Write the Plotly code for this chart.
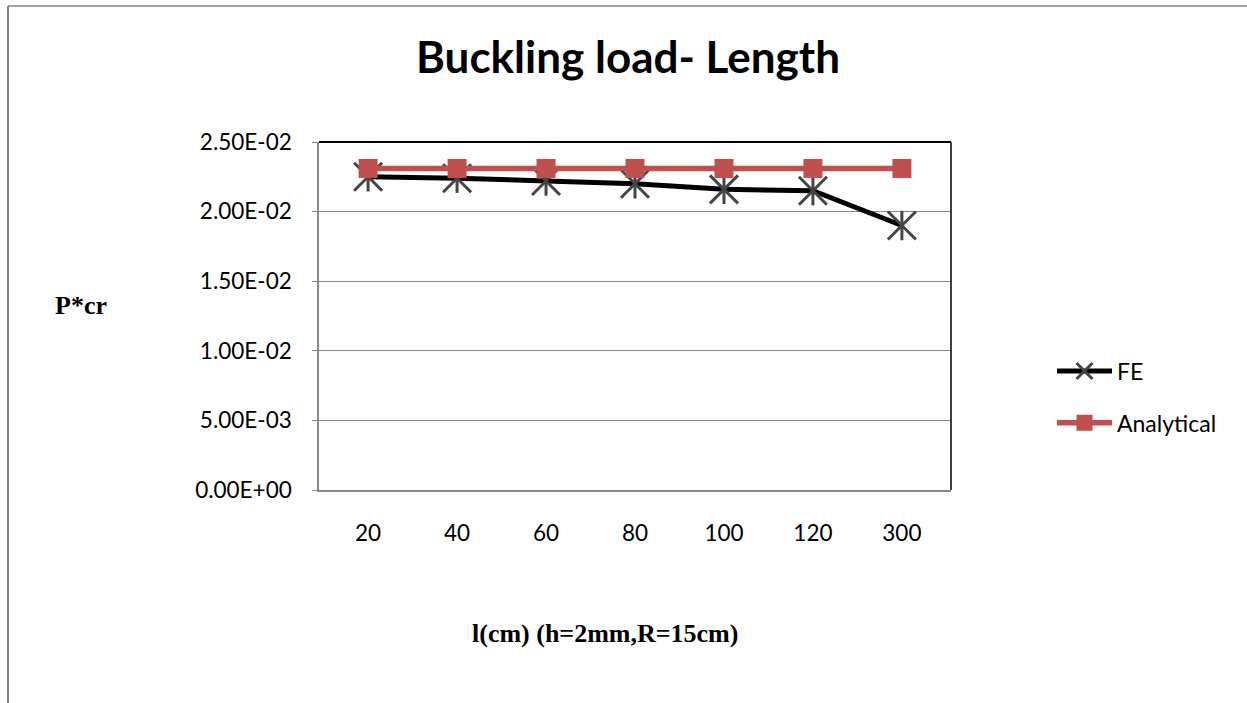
import plotly.graph_objects as go

# Chart data
lengths = ["20", "40", "60", "80", "100", "120", "300"]
fe_load = [0.0225, 0.0224, 0.0222, 0.0220, 0.0216, 0.0215, 0.0190]
analytical_load = [0.0231, 0.0231, 0.0231, 0.0231, 0.0231, 0.0231, 0.0231]
y_ticks = [0.0, 0.005, 0.010, 0.015, 0.020, 0.025]
y_tick_labels = [f"{v:.2E}" for v in y_ticks]

W, H = 1247, 703
PL, PR, PT, PB = 319, 951, 142, 490  # plot area in pixels


def px_x(x):
    return (x - PL) / (PR - PL)


def px_y(y):
    return (PB - y) / (PB - PT)


RED = "#C0504D"
STAR = "#454545"

fig = go.Figure()

# FE: black line with diagonal arms of the star marker
fig.add_trace(go.Scatter(
    x=lengths, y=fe_load, name="FE", mode="lines+markers", legendgroup="fe",
    line=dict(color="black", width=5),
    marker=dict(symbol="x-thin-open", size=28, color=STAR,
                line=dict(color=STAR, width=3)),
))
# vertical arm of the star marker
fig.add_trace(go.Scatter(
    x=lengths, y=fe_load, name="FE", mode="markers", legendgroup="fe",
    showlegend=False, hoverinfo="skip",
    marker=dict(symbol="line-ns-open", size=21, color=STAR,
                line=dict(color=STAR, width=3)),
))
fig.add_trace(go.Scatter(
    x=lengths, y=analytical_load, name="Analytical", mode="lines+markers",
    legendgroup="an",
    line=dict(color=RED, width=5.5),
    marker=dict(symbol="square", size=19, color=RED),
))

GRID = "#888888"
shapes = [
    # plot frame: dark top and right edges
    dict(type="line", xref="paper", yref="paper", x0=0, x1=1, y0=1, y1=1,
         line=dict(color="black", width=2)),
    dict(type="line", xref="paper", yref="paper", x0=1, x1=1, y0=0, y1=1,
         line=dict(color="black", width=1.5)),
    # outer chart border (left and top)
    dict(type="line", xref="paper", yref="paper",
         x0=px_x(8), x1=px_x(8), y0=px_y(6), y1=px_y(H + 5),
         line=dict(color="#858585", width=2)),
    dict(type="line", xref="paper", yref="paper",
         x0=px_x(8), x1=px_x(W + 5), y0=px_y(6), y1=px_y(6),
         line=dict(color="#858585", width=1.5)),
]

SERIF = "Liberation Serif"
annotations = [
    dict(text="<b>P*cr</b>", xref="paper", yref="paper",
         x=px_x(81), y=px_y(305), xanchor="center", yanchor="middle",
         showarrow=False, font=dict(family=SERIF, size=26, color="black")),
    dict(text="<b>l(cm) (h=2mm,R=15cm)</b>", xref="paper", yref="paper",
         x=px_x(605), y=px_y(633), xanchor="center", yanchor="middle",
         showarrow=False, font=dict(family=SERIF, size=26, color="black")),
]

fig.update_layout(
    width=W, height=H,
    margin=dict(l=PL, r=W - PR, t=PT, b=H - PB, pad=0),
    paper_bgcolor="white", plot_bgcolor="white",
    font=dict(family="Lato", size=22, color="black"),
    title=dict(text="<b>Buckling load- Length</b>", x=628 / W, xanchor="center",
               y=1 - 58 / H, yanchor="middle", yref="container",
               font=dict(family="Lato", size=44, color="black")),
    showlegend=True,
    legend=dict(x=px_x(1052), xanchor="left", y=px_y(397), yanchor="middle",
                font=dict(family="Lato", size=23, color="black"),
                itemwidth=55, tracegroupgap=19, bgcolor="rgba(0,0,0,0)"),
    shapes=shapes,
    annotations=annotations,
)

fig.update_xaxes(
    type="category", showgrid=False, showline=True, linecolor=GRID, linewidth=1.5,
    ticks="", ticklabelstandoff=22, zeroline=False,
    tickfont=dict(family="Lato", size=22.5, color="black"),
)
fig.update_yaxes(
    range=[0, 0.025], tickvals=y_ticks, ticktext=y_tick_labels,
    showgrid=True, gridcolor=GRID, gridwidth=1.2,
    showline=True, linecolor=GRID, linewidth=1.5,
    ticks="outside", ticklen=5, tickcolor=GRID, ticklabelstandoff=16,
    zeroline=False,
    tickfont=dict(family="Lato", size=22.5, color="black"),
)

fig.write_html("out.html")
